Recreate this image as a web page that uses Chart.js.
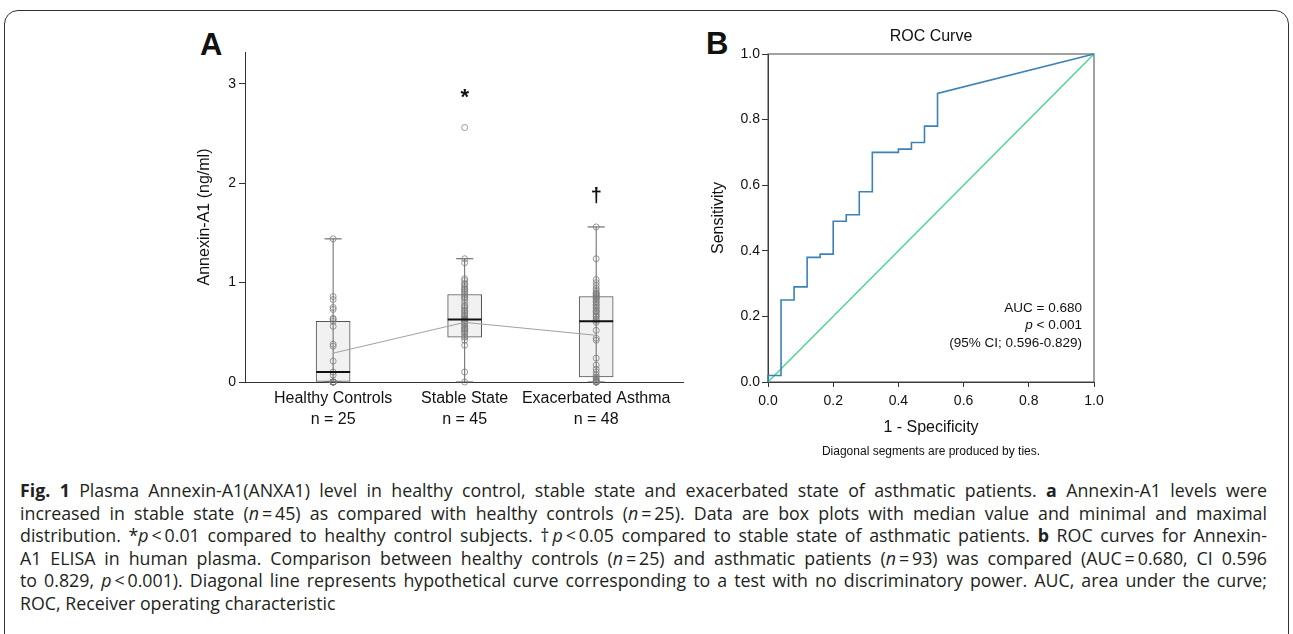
<!DOCTYPE html>
<html>
<head>
<meta charset="utf-8">
<script src="https://cdn.jsdelivr.net/npm/chart.js@4.4.1/dist/chart.umd.min.js"></script>
<style>
  html, body { margin: 0; padding: 0; background: #fff; }
  body { width: 1293px; height: 634px; position: relative; overflow: hidden;
         font-family: 'Liberation Sans', Arial, sans-serif; color: #111; }
  .frame { position: absolute; left: 4px; top: 10px; width: 1285px; height: 660px;
           border: 1.5px solid #333; border-radius: 14px; box-sizing: border-box; }
  .tag { position: absolute; font-weight: bold; font-size: 31px; line-height: 1; }
  #wrapA { position: absolute; left: 180px; top: 20px; }
  #wrapB { position: absolute; left: 700px; top: 20px; }
  .caption { position: absolute; left: 20px; top: 479px; width: 1247px;
             font-family: 'Open Sans', sans-serif; font-size: 17.8px; line-height: 22.6px; color: #231f20; }
  .caption div { text-align: justify; text-align-last: justify; white-space: nowrap; }
  .caption div.last { text-align-last: left; }
</style>
</head>
<body>
<div class="frame"></div>
<div class="tag" style="left:200px;top:29px;">A</div>
<div class="tag" style="left:706px;top:28px;">B</div>
<div id="wrapA"><canvas id="chart-box" width="520" height="412"></canvas></div>
<div id="wrapB"><canvas id="chart-roc" width="420" height="445"></canvas></div>

<div class="caption">
  <div><b>Fig. 1</b> Plasma Annexin-A1(ANXA1) level in healthy control, stable state and exacerbated state of asthmatic patients. <b>a</b> Annexin-A1 levels were</div>
  <div>increased in stable state (<i>n</i>&thinsp;=&thinsp;45) as compared with healthy controls (<i>n</i>&thinsp;=&thinsp;25). Data are box plots with median value and minimal and maximal</div>
  <div>distribution. *<i>p</i>&thinsp;&lt;&thinsp;0.01 compared to healthy control subjects. †<i>p</i>&thinsp;&lt;&thinsp;0.05 compared to stable state of asthmatic patients. <b>b</b> ROC curves for Annexin-</div>
  <div>A1 ELISA in human plasma. Comparison between healthy controls (<i>n</i>&thinsp;=&thinsp;25) and asthmatic patients (<i>n</i>&thinsp;=&thinsp;93) was compared (AUC&thinsp;=&thinsp;0.680, CI 0.596</div>
  <div>to 0.829, <i>p</i>&thinsp;&lt;&thinsp;0.001). Diagonal line represents hypothetical curve corresponding to a test with no discriminatory power. AUC, area under the curve;</div>
  <div class="last">ROC, Receiver operating characteristic</div>
</div>

<script>
  /* ── Panel A data (box plots) ───────────────────────────── */
  const categories = ['Healthy Controls', 'Stable State', 'Exacerbated Asthma'];
  const groupN = [25, 45, 48];
  const boxMin = [0, 0, 0];
  const boxQ1 = [0, 0.45, 0.05];
  const boxMedian = [0.10, 0.63, 0.61];
  const boxQ3 = [0.61, 0.88, 0.86];
  const boxMax = [1.44, 1.24, 1.56];
  const groupMean = [0.29, 0.60, 0.47];
  const yTicksA = [0, 1, 2, 3];

  const healthyPoints = [0, 0, 0, 0, 0, 0, 0, 0, 0, 0, 0, 0.07, 0.10, 0.21, 0.36, 0.38,
    0.56, 0.61, 0.63, 0.64, 0.73, 0.75, 0.83, 0.86, 1.44];
  const stablePoints = [0, 0.10, 0.37, 0.42, 0.45, 0.46, 0.49, 0.50, 0.52, 0.53, 0.54, 0.56,
    0.57, 0.59, 0.60, 0.61, 0.62, 0.63, 0.63, 0.64, 0.66, 0.67, 0.69, 0.71, 0.72, 0.74, 0.76,
    0.77, 0.80, 0.83, 0.85, 0.86, 0.88, 0.90, 0.91, 0.93, 0.94, 0.96, 0.98, 0.99, 1.02, 1.04,
    1.20, 1.24, 2.56];
  const exacPoints = [0, 0, 0, 0, 0, 0, 0.01, 0.02, 0.04, 0.05, 0.07, 0.10, 0.13, 0.17, 0.24,
    0.42, 0.44, 0.52, 0.60, 0.62, 0.63, 0.66, 0.66, 0.68, 0.70, 0.71, 0.72, 0.74, 0.75, 0.77,
    0.78, 0.80, 0.81, 0.83, 0.84, 0.85, 0.86, 0.87, 0.88, 0.89, 0.90, 0.92, 0.94, 0.97, 1.00,
    1.03, 1.24, 1.56];

  const sigMarks = ['', '*', '†'];
  const sigY = [null, 2.90, 1.88];

  /* ── Panel B data (ROC) ─────────────────────────────────── */
  const rocFpr = [0, 0, 0.04, 0.04, 0.08, 0.08, 0.12, 0.12, 0.16, 0.16, 0.20, 0.20, 0.24, 0.24,
    0.28, 0.28, 0.32, 0.32, 0.40, 0.40, 0.44, 0.44, 0.48, 0.48, 0.52, 0.52, 1];
  const rocTpr = [0, 0.02, 0.02, 0.25, 0.25, 0.29, 0.29, 0.38, 0.38, 0.39, 0.39, 0.49, 0.49, 0.51,
    0.51, 0.58, 0.58, 0.70, 0.70, 0.71, 0.71, 0.73, 0.73, 0.78, 0.78, 0.88, 1];
  const diagX = [0, 1];
  const diagY = [0, 1];
  const rocTicks = [0, 0.2, 0.4, 0.6, 0.8, 1.0];

  Chart.defaults.font.family = "'Liberation Sans', Arial, sans-serif";
  Chart.defaults.color = '#111';
  Chart.defaults.animation = false;

  const CAP = 0.065;   // half width of whisker caps (x units)
  const HALF = 0.129;  // half width of box (x units)

  // line segments separated by gaps
  function segments(list) {
    const out = [];
    list.forEach(seg => { out.push(...seg); out.push({ x: seg[0].x, y: null }); });
    return out;
  }

  const whiskers = segments(categories.map((c, i) => [{ x: i, y: boxMin[i] }, { x: i, y: boxMax[i] }]));
  const caps = segments(categories.flatMap((c, i) => [
    [{ x: i - CAP, y: boxMax[i] }, { x: i + CAP, y: boxMax[i] }],
    [{ x: i - CAP, y: boxMin[i] }, { x: i + CAP, y: boxMin[i] }]
  ]));
  const medians = segments(categories.map((c, i) => [{ x: i - HALF, y: boxMedian[i] }, { x: i + HALF, y: boxMedian[i] }]));

  const pointStyle = {
    type: 'scatter', pointRadius: 3, pointBorderWidth: 1, pointBorderColor: 'rgba(120,120,120,0.75)',
    pointBackgroundColor: 'rgba(0,0,0,0)', clip: false, order: 2
  };

  const sigPlugin = {
    id: 'sig',
    afterDatasetsDraw(chart) {
      const { ctx, scales: { x, y } } = chart;
      ctx.save();
      ctx.fillStyle = '#111';
      ctx.textAlign = 'center';
      ctx.textBaseline = 'alphabetic';
      sigMarks.forEach((m, i) => {
        if (!m) return;
        ctx.font = m === '*' ? 'bold 22px "Liberation Sans", Arial' : 'bold 20px "Liberation Sans", Arial';
        const mt = ctx.measureText(m);
        const cy = y.getPixelForValue(sigY[i]);
        ctx.fillText(m, x.getPixelForValue(i), cy + (mt.actualBoundingBoxAscent - mt.actualBoundingBoxDescent) / 2);
      });
      ctx.restore();
    }
  };

  new Chart(document.getElementById('chart-box'), {
    type: 'scatter',
    data: {
      datasets: [
        { type: 'line', data: medians, borderColor: '#111', borderWidth: 2, pointRadius: 0, spanGaps: false, order: 0 },
        { type: 'line', data: groupMean.map((v, i) => ({ x: i, y: v })), borderColor: '#a0a0a0', borderWidth: 1, pointRadius: 0, order: 1 },
        Object.assign({ data: healthyPoints.map(v => ({ x: 0, y: v })) }, pointStyle),
        Object.assign({ data: stablePoints.map(v => ({ x: 1, y: v })) }, pointStyle),
        Object.assign({ data: exacPoints.map(v => ({ x: 2, y: v })) }, pointStyle),
        { type: 'line', data: caps, borderColor: '#555', borderWidth: 1, pointRadius: 0, spanGaps: false, clip: false, order: 3 },
        { type: 'line', data: whiskers, borderColor: '#666', borderWidth: 1, pointRadius: 0, spanGaps: false, clip: false, order: 4 },
        {
          type: 'bar', data: categories.map((c, i) => ({ x: i, y: [boxQ1[i], boxQ3[i]] })),
          backgroundColor: '#f1f1f1', borderColor: '#555', borderWidth: 1, borderSkipped: false,
          barThickness: 34, order: 5
        }
      ]
    },
    options: {
      responsive: false,
      layout: { padding: { top: 32, right: 17, left: 0, bottom: 0 } },
      plugins: { legend: { display: false }, tooltip: { enabled: false } },
      scales: {
        x: {
          type: 'linear', min: -0.67, max: 2.66, offset: false,
          grid: { drawOnChartArea: false, drawTicks: false, offset: false },
          border: { color: '#333' },
          ticks: {
            color: '#111', font: { size: 16, lineHeight: 1.3 }, padding: 6, autoSkip: false, maxRotation: 0,
            callback: v => [categories[v], 'n = ' + groupN[v]]
          },
          afterBuildTicks: s => { s.ticks = categories.map((c, i) => ({ value: i })); },
          afterFit: s => { s.height = 50; }
        },
        y: {
          min: 0, max: 3.32,
          grid: { drawOnChartArea: false, tickLength: 6, color: '#333' },
          border: { color: '#333' },
          ticks: { color: '#111', font: { size: 14 }, padding: 3 },
          afterBuildTicks: s => { s.ticks = yTicksA.map(v => ({ value: v })); },
          title: { display: true, text: 'Annexin-A1 (ng/ml)', color: '#111', font: { size: 16 }, padding: { top: 15, bottom: 0 } },
          afterFit: s => { s.width = 65; }
        }
      }
    },
    plugins: [sigPlugin]
  });

  /* ── Panel B: ROC ───────────────────────────────────────── */
  const framePlugin = {
    id: 'frame',
    beforeDatasetsDraw(chart) {
      const { ctx, chartArea: a } = chart;
      ctx.save();
      ctx.strokeStyle = '#444';
      ctx.lineWidth = 1;
      ctx.strokeRect(a.left, a.top, a.width, a.height);
      ctx.restore();
    }
  };

  const aucPlugin = {
    id: 'auc',
    afterDatasetsDraw(chart) {
      const { ctx, chartArea: a, scales: { y } } = chart;
      const xr = a.right - 12;
      ctx.save();
      ctx.fillStyle = '#111';
      ctx.textAlign = 'right';
      ctx.textBaseline = 'middle';
      ctx.font = '13.5px "Liberation Sans", Arial';
      ctx.fillText('AUC = 0.680', xr, y.getPixelForValue(0.225));
      const rest = ' < 0.001';
      ctx.fillText(rest, xr, y.getPixelForValue(0.172));
      const w = ctx.measureText(rest).width;
      ctx.font = 'italic 13.5px "Liberation Sans", Arial';
      ctx.fillText('p', xr - w, y.getPixelForValue(0.172));
      ctx.font = '13.5px "Liberation Sans", Arial';
      ctx.fillText('(95% CI; 0.596-0.829)', xr, y.getPixelForValue(0.117));
      ctx.restore();
    }
  };

  new Chart(document.getElementById('chart-roc'), {
    type: 'scatter',
    data: {
      datasets: [
        {
          type: 'line', data: rocFpr.map((v, i) => ({ x: v, y: rocTpr[i] })),
          borderColor: '#3b82b8', borderWidth: 1.6, pointRadius: 0, tension: 0, clip: 3
        },
        {
          type: 'line', data: diagX.map((v, i) => ({ x: v, y: diagY[i] })),
          borderColor: '#48d68b', borderWidth: 1.4, pointRadius: 0, clip: 3
        }
      ]
    },
    options: {
      responsive: false,
      layout: { padding: { top: 0, right: 26, left: 0, bottom: 5.8 } },
      plugins: {
        legend: { display: false },
        tooltip: { enabled: false },
        title: {
          display: true, text: 'ROC Curve', fullSize: false, color: '#111',
          font: { size: 16, weight: 'normal' }, padding: { top: 7, bottom: 7.8 }
        },
        subtitle: {
          display: true, position: 'bottom', text: 'Diagonal segments are produced by ties.', fullSize: false,
          color: '#111', font: { size: 12 }, padding: { top: 6.8, bottom: 0 }
        }
      },
      scales: {
        x: {
          type: 'linear', min: 0, max: 1,
          grid: { drawOnChartArea: false, tickLength: 5, color: '#333' },
          border: { color: '#333' },
          ticks: { color: '#111', font: { size: 14 }, padding: 6, callback: v => v.toFixed(1) },
          afterBuildTicks: s => { s.ticks = rocTicks.map(v => ({ value: v })); },
          title: { display: true, text: '1 - Specificity', color: '#111', font: { size: 16 }, padding: { top: 0, bottom: 1 } },
          afterFit: s => { s.height = 56; }
        },
        y: {
          min: 0, max: 1,
          grid: { drawOnChartArea: false, tickLength: 6, color: '#333' },
          border: { color: '#333' },
          ticks: { color: '#111', font: { size: 14 }, padding: 2, callback: v => v.toFixed(1) },
          afterBuildTicks: s => { s.ticks = rocTicks.map(v => ({ value: v })); },
          title: { display: true, text: 'Sensitivity', color: '#111', font: { size: 16 }, padding: { top: 9, bottom: 0 } },
          afterFit: s => { s.width = 68; }
        }
      }
    },
    plugins: [framePlugin, aucPlugin]
  });
</script>
</body>
</html>
